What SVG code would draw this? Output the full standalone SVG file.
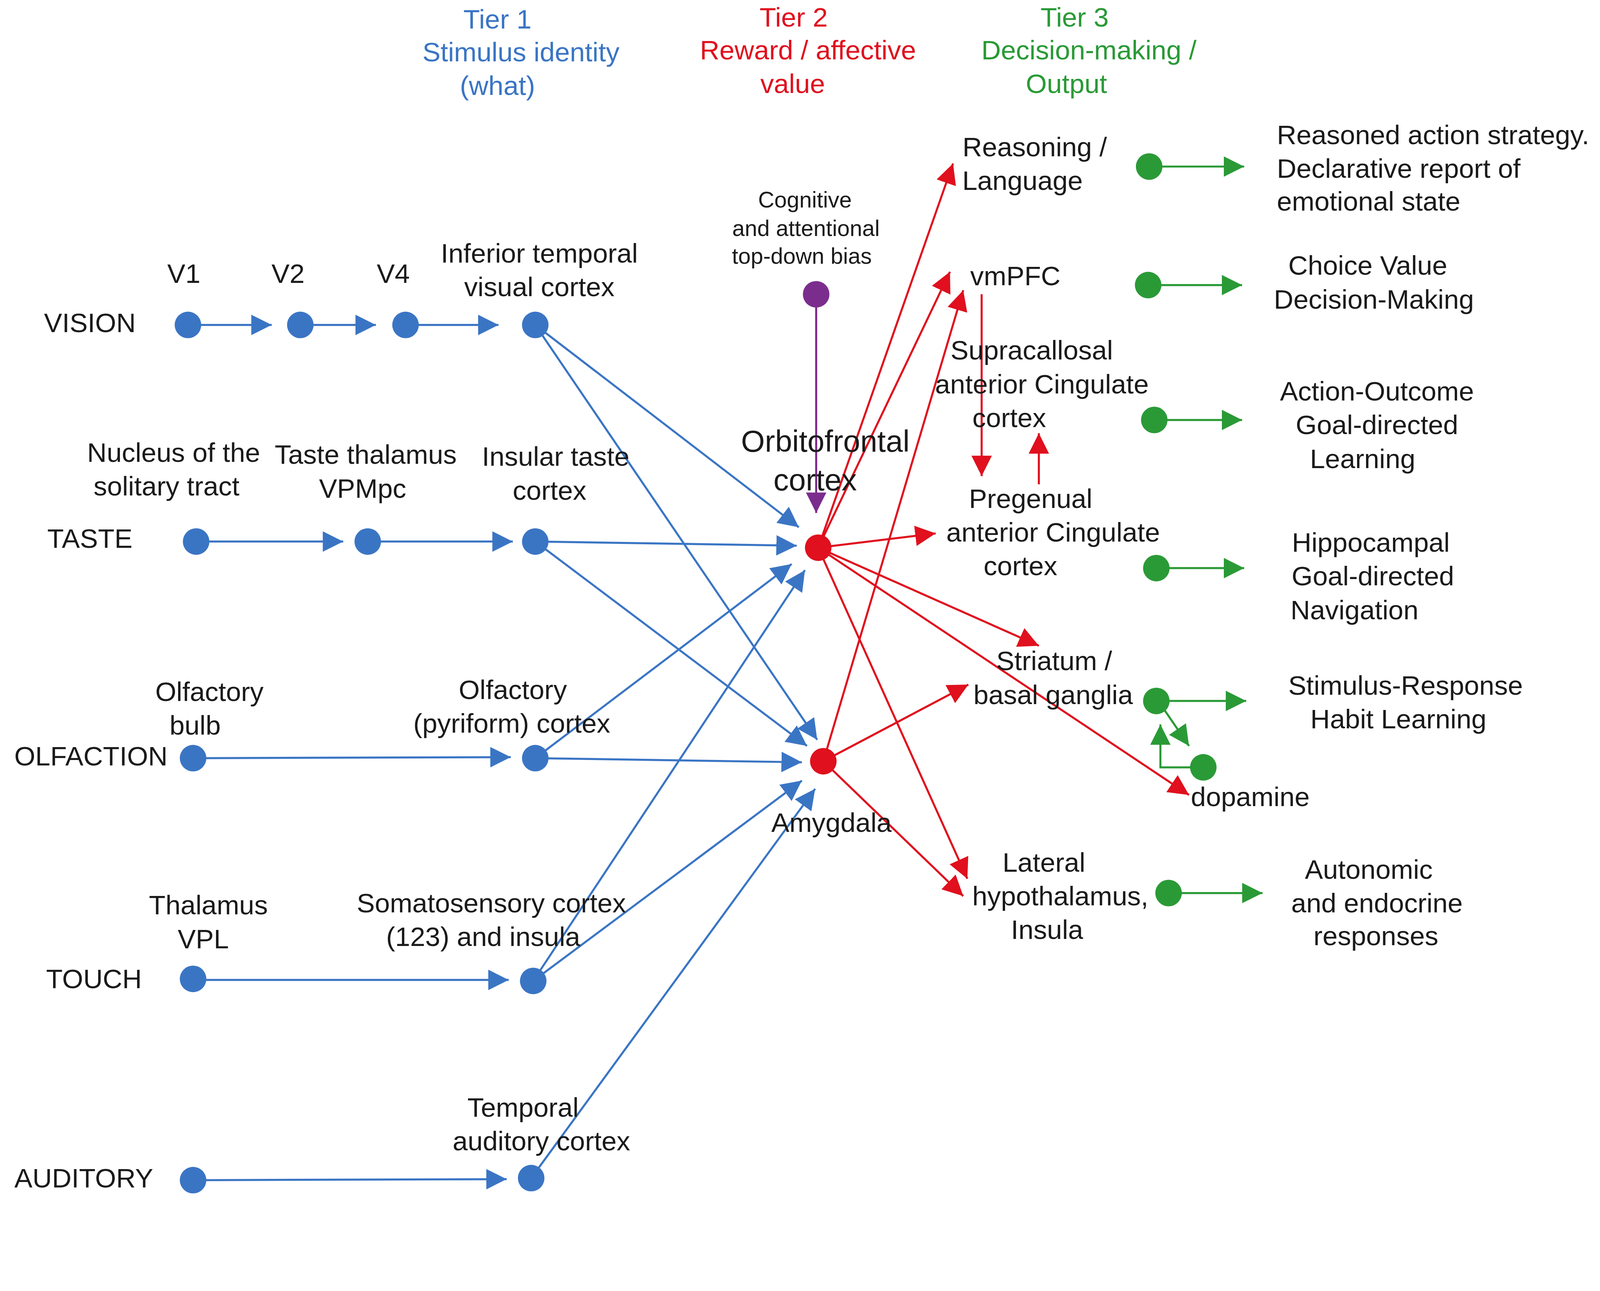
<svg xmlns="http://www.w3.org/2000/svg" width="4403" height="3304" viewBox="0 0 4403 3304">
<style>
text{font-family:"Liberation Sans",Arial,sans-serif;font-size:26.5px;fill:#1a1a1a;text-anchor:middle}
.b{fill:#3a75c4}.r{fill:#e0101e}.g{fill:#2a9a36}
.lb{stroke:#3a75c4;stroke-width:2;fill:none;marker-end:url(#ab)}
.lr{stroke:#e0101e;stroke-width:2;fill:none;marker-end:url(#ar)}
.lg{stroke:#2a9a36;stroke-width:2;fill:none;marker-end:url(#ag)}
.lp{stroke:#7b2d8e;stroke-width:2;fill:none;marker-end:url(#ap)}
.small{font-size:22px}
</style>
<defs>
<marker id="ab" viewBox="0 0 10 10" refX="10" refY="5" markerWidth="10" markerHeight="10" orient="auto"><path d="M0,0L10,5L0,10z" fill="#3a75c4"/></marker>
<marker id="ar" viewBox="0 0 10 10" refX="10" refY="5" markerWidth="10" markerHeight="10" orient="auto"><path d="M0,0L10,5L0,10z" fill="#e0101e"/></marker>
<marker id="ag" viewBox="0 0 10 10" refX="10" refY="5" markerWidth="10" markerHeight="10" orient="auto"><path d="M0,0L10,5L0,10z" fill="#2a9a36"/></marker>
<marker id="ap" viewBox="0 0 10 10" refX="10" refY="5" markerWidth="10" markerHeight="10" orient="auto"><path d="M0,0L10,5L0,10z" fill="#7b2d8e"/></marker>
</defs>
<rect width="4403" height="3304" fill="#fff"/>
<g transform="scale(2.615)">
<g id="headers">
<text x="487" y="28" class="b">Tier 1</text><text x="510" y="60" class="b">Stimulus identity</text><text x="487" y="93" class="b">(what)</text>
<text x="777" y="26" class="r">Tier 2</text><text x="791" y="58" class="r">Reward / affective</text><text x="776" y="91" class="r">value</text>
<text x="1052" y="26" class="g">Tier 3</text><text x="1066" y="58" class="g">Decision-making /</text><text x="1044" y="91" class="g">Output</text>
</g>
<g id="connectors">
<line x1="184" y1="318" x2="266" y2="318" class="lb"/>
<line x1="294" y1="318" x2="368" y2="318" class="lb"/>
<line x1="397" y1="318" x2="488" y2="318" class="lb"/>
<line x1="192" y1="530" x2="336" y2="530" class="lb"/>
<line x1="360" y1="530" x2="502" y2="530" class="lb"/>
<line x1="189" y1="742" x2="500" y2="741" class="lb"/>
<line x1="189" y1="959" x2="498" y2="959" class="lb"/>
<line x1="189" y1="1155" x2="496" y2="1154" class="lb"/>
<line x1="524" y1="318" x2="782" y2="516" class="lb"/>
<line x1="524" y1="318" x2="800" y2="724" class="lb"/>
<line x1="524" y1="530" x2="780" y2="534" class="lb"/>
<line x1="524" y1="530" x2="790" y2="730" class="lb"/>
<line x1="524" y1="742" x2="775" y2="552" class="lb"/>
<line x1="524" y1="742" x2="785" y2="746" class="lb"/>
<line x1="522" y1="960" x2="788" y2="558" class="lb"/>
<line x1="522" y1="960" x2="785" y2="764" class="lb"/>
<line x1="520" y1="1153" x2="798" y2="772" class="lb"/>
<line x1="799" y1="288" x2="799" y2="502" class="lp"/>
<line x1="801" y1="536" x2="933" y2="160" class="lr"/>
<line x1="801" y1="536" x2="930" y2="266" class="lr"/>
<line x1="801" y1="536" x2="916" y2="522" class="lr"/>
<line x1="801" y1="536" x2="1017" y2="632" class="lr"/>
<line x1="801" y1="536" x2="1164" y2="778" class="lr"/>
<line x1="801" y1="536" x2="947" y2="860" class="lr"/>
<line x1="806" y1="745" x2="943" y2="284" class="lr"/>
<line x1="806" y1="745" x2="948" y2="670" class="lr"/>
<line x1="806" y1="745" x2="943" y2="877" class="lr"/>
<line x1="961" y1="288" x2="961" y2="466" class="lr"/>
<line x1="1017" y1="474" x2="1017" y2="424" class="lr"/>
<line x1="1125" y1="163" x2="1218" y2="163" class="lg"/>
<line x1="1124" y1="279" x2="1216" y2="279" class="lg"/>
<line x1="1130" y1="411" x2="1216" y2="411" class="lg"/>
<line x1="1132" y1="556" x2="1218" y2="556" class="lg"/>
<line x1="1132" y1="686" x2="1220" y2="686" class="lg"/>
<line x1="1144" y1="874" x2="1236" y2="874" class="lg"/>
<line x1="1138" y1="692" x2="1164" y2="730" class="lg"/>
<polyline points="1178,751 1136,751 1136,709" class="lg"/>
</g>
<g id="blue-nodes" class="b">
<circle cx="184" cy="318" r="13"/><circle cx="294" cy="318" r="13"/><circle cx="397" cy="318" r="13"/><circle cx="524" cy="318" r="13"/>
<circle cx="192" cy="530" r="13"/><circle cx="360" cy="530" r="13"/><circle cx="524" cy="530" r="13"/>
<circle cx="189" cy="742" r="13"/><circle cx="524" cy="742" r="13"/>
<circle cx="189" cy="958" r="13"/><circle cx="522" cy="960" r="13"/>
<circle cx="189" cy="1155" r="13"/><circle cx="520" cy="1153" r="13"/>
</g>
<g id="ofc"><circle cx="801" cy="536" r="13" class="r"/><text x="808" y="442" style="font-size:30px">Orbitofrontal</text><text x="798" y="480" style="font-size:30px">cortex</text></g>
<g id="amygdala"><circle cx="806" cy="745" r="13" class="r"/><text x="814" y="814">Amygdala</text></g>
<g id="topdown"><circle cx="799" cy="288" r="13" fill="#7b2d8e"/><text x="788" y="203" class="small">Cognitive</text><text x="789" y="231" class="small">and attentional</text><text x="785" y="258" class="small">top-down bias</text></g>
<g id="green-nodes" class="g">
<circle cx="1125" cy="163" r="13"/><circle cx="1124" cy="279" r="13"/><circle cx="1130" cy="411" r="13"/><circle cx="1132" cy="556" r="13"/><circle cx="1132" cy="686" r="13"/><circle cx="1178" cy="751" r="13"/><circle cx="1144" cy="874" r="13"/>
</g>
<g id="labels">
<text x="88" y="325">VISION</text><text x="180" y="277">V1</text><text x="282" y="277">V2</text><text x="385" y="277">V4</text>
<text x="528" y="257">Inferior temporal</text><text x="528" y="290">visual cortex</text>
<text x="88" y="536">TASTE</text><text x="170" y="452">Nucleus of the</text><text x="163" y="485">solitary tract</text>
<text x="358" y="454">Taste thalamus</text><text x="355" y="487">VPMpc</text>
<text x="544" y="456">Insular taste</text><text x="538" y="489">cortex</text>
<text x="89" y="749">OLFACTION</text><text x="205" y="686">Olfactory</text><text x="191" y="719">bulb</text>
<text x="502" y="684">Olfactory</text><text x="501" y="717">(pyriform) cortex</text>
<text x="92" y="967">TOUCH</text><text x="204" y="895">Thalamus</text><text x="199" y="928">VPL</text>
<text x="481" y="893">Somatosensory cortex</text><text x="473" y="926">(123) and insula</text>
<text x="82" y="1162">AUDITORY</text><text x="512" y="1093">Temporal</text><text x="530" y="1126">auditory cortex</text>
<text x="1013" y="153">Reasoning /</text><text x="1001" y="186">Language</text>
<text x="994" y="279">vmPFC</text>
<text x="1010" y="352">Supracallosal</text><text x="1020" y="385">anterior Cingulate</text><text x="988" y="418">cortex</text>
<text x="1009" y="497">Pregenual</text><text x="1031" y="530">anterior Cingulate</text><text x="999" y="563">cortex</text>
<text x="1032" y="656">Striatum /</text><text x="1031" y="689">basal ganglia</text>
<text x="1224" y="789">dopamine</text>
<text x="1022" y="853">Lateral</text><text x="1038" y="886">hypothalamus,</text><text x="1025" y="919">Insula</text>
<text x="1250" y="141" style="text-anchor:start">Reasoned action strategy.</text><text x="1250" y="174" style="text-anchor:start">Declarative report of</text><text x="1250" y="206" style="text-anchor:start">emotional state</text>
<text x="1339" y="269">Choice Value</text><text x="1345" y="302">Decision-Making</text>
<text x="1348" y="392">Action-Outcome</text><text x="1348" y="425">Goal-directed</text><text x="1334" y="458">Learning</text>
<text x="1342" y="540" >Hippocampal</text><text x="1344" y="573">Goal-directed</text><text x="1326" y="606">Navigation</text>
<text x="1376" y="680">Stimulus-Response</text><text x="1369" y="713">Habit Learning</text>
<text x="1340" y="860">Autonomic</text><text x="1348" y="893">and endocrine</text><text x="1347" y="925">responses</text>
</g>
</g>
</svg>
